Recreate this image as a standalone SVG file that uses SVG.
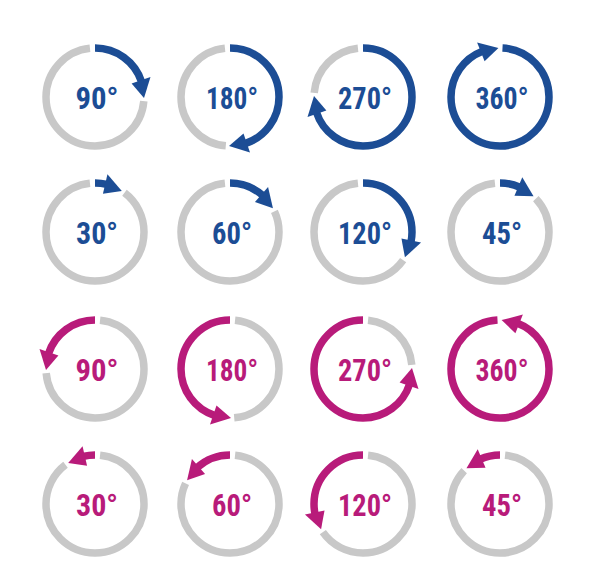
<svg xmlns="http://www.w3.org/2000/svg" xmlns:xlink="http://www.w3.org/1999/xlink" width="589" height="574" viewBox="0 0 589 574">
<style>
.g{fill:none;stroke:#c8c8c8;stroke-width:7.5}
.b{fill:none;stroke:#1c4d95;stroke-width:7.5}
.m{fill:none;stroke:#b81b7a;stroke-width:7.5}
.hb{fill:#1c4d95}
.hm{fill:#b81b7a}
.t{font-family:"Liberation Sans Narrow","Roboto Condensed","Liberation Sans",Arial,sans-serif;font-weight:bold;font-size:32px;text-anchor:middle}
.tb{fill:#1c4d95}
.tm{fill:#b81b7a}
</style>
<defs>
<polygon id="acw" points="1,-49 -20,-55.5 -13.5,-36.6"/>
<polygon id="accw" points="-1,-49 20,-55.5 13.5,-36.6"/>
</defs>
<rect width="589" height="574" fill="#ffffff"/>
<g id="connectors"/>

<!-- Row 1 blue -->
<g id="b90" transform="translate(95,97)">
<circle class="g" r="49" pathLength="360" transform="rotate(-90)" stroke-dasharray="259 400" stroke-dashoffset="-95"/>
<circle class="b" r="49" pathLength="360" transform="rotate(-90)" stroke-dasharray="72 400" stroke-dashoffset="0"/>
<use href="#acw" class="hb" transform="rotate(90)"/>
<text class="t tb" x="2" y="11.5" textLength="43" lengthAdjust="spacingAndGlyphs">90°</text>
</g>
<g id="b180" transform="translate(230,97)">
<circle class="g" r="49" pathLength="360" transform="rotate(-90)" stroke-dasharray="169 400" stroke-dashoffset="-185"/>
<circle class="b" r="49" pathLength="360" transform="rotate(-90)" stroke-dasharray="162 400" stroke-dashoffset="0"/>
<use href="#acw" class="hb" transform="rotate(180)"/>
<text class="t tb" x="2" y="11.5" textLength="52" lengthAdjust="spacingAndGlyphs">180°</text>
</g>
<g id="b270" transform="translate(363,97)">
<circle class="g" r="49" pathLength="360" transform="rotate(-90)" stroke-dasharray="79 400" stroke-dashoffset="-275"/>
<circle class="b" r="49" pathLength="360" transform="rotate(-90)" stroke-dasharray="252 400" stroke-dashoffset="0"/>
<use href="#acw" class="hb" transform="rotate(270)"/>
<text class="t tb" x="2" y="11.5" textLength="54" lengthAdjust="spacingAndGlyphs">270°</text>
</g>
<g id="b360" transform="translate(500,97)">
<circle class="b" r="49" pathLength="360" transform="rotate(-90)" stroke-dasharray="336 400" stroke-dashoffset="-3"/>
<use href="#acw" class="hb" transform="rotate(357)"/>
<text class="t tb" x="2" y="11.5" textLength="53" lengthAdjust="spacingAndGlyphs">360°</text>
</g>

<!-- Row 2 blue -->
<g id="b30" transform="translate(95,232)">
<circle class="g" r="49" pathLength="360" transform="rotate(-90)" stroke-dasharray="317 400" stroke-dashoffset="-37"/>
<circle class="b" r="49" pathLength="360" transform="rotate(-90)" stroke-dasharray="14 400" stroke-dashoffset="0"/>
<use href="#acw" class="hb" transform="rotate(32)"/>
<text class="t tb" x="2" y="11.5" textLength="42" lengthAdjust="spacingAndGlyphs">30°</text>
</g>
<g id="b60" transform="translate(230,232)">
<circle class="g" r="49" pathLength="360" transform="rotate(-90)" stroke-dasharray="289 400" stroke-dashoffset="-65"/>
<circle class="b" r="49" pathLength="360" transform="rotate(-90)" stroke-dasharray="42 400" stroke-dashoffset="0"/>
<use href="#acw" class="hb" transform="rotate(60)"/>
<text class="t tb" x="2" y="11.5" textLength="40" lengthAdjust="spacingAndGlyphs">60°</text>
</g>
<g id="b120" transform="translate(363,232)">
<circle class="g" r="49" pathLength="360" transform="rotate(-90)" stroke-dasharray="229 400" stroke-dashoffset="-125"/>
<circle class="b" r="49" pathLength="360" transform="rotate(-90)" stroke-dasharray="102 400" stroke-dashoffset="0"/>
<use href="#acw" class="hb" transform="rotate(120)"/>
<text class="t tb" x="2" y="11.5" textLength="54" lengthAdjust="spacingAndGlyphs">120°</text>
</g>
<g id="b45" transform="translate(500,232)">
<circle class="g" r="49" pathLength="360" transform="rotate(-90)" stroke-dasharray="307 400" stroke-dashoffset="-47"/>
<circle class="b" r="49" pathLength="360" transform="rotate(-90)" stroke-dasharray="24 400" stroke-dashoffset="0"/>
<use href="#acw" class="hb" transform="rotate(42)"/>
<text class="t tb" x="2" y="11.5" textLength="40" lengthAdjust="spacingAndGlyphs">45°</text>
</g>

<!-- Row 3 magenta -->
<g id="m90" transform="translate(95,369)">
<circle class="g" r="49" pathLength="360" transform="rotate(-90)" stroke-dasharray="259 400" stroke-dashoffset="-6"/>
<circle class="m" r="49" pathLength="360" transform="rotate(-90)" stroke-dasharray="72 400" stroke-dashoffset="-288"/>
<use href="#accw" class="hm" transform="rotate(270)"/>
<text class="t tm" x="2" y="11.5" textLength="43" lengthAdjust="spacingAndGlyphs">90°</text>
</g>
<g id="m180" transform="translate(230,369)">
<circle class="g" r="49" pathLength="360" transform="rotate(-90)" stroke-dasharray="169 400" stroke-dashoffset="-6"/>
<circle class="m" r="49" pathLength="360" transform="rotate(-90)" stroke-dasharray="162 400" stroke-dashoffset="-198"/>
<use href="#accw" class="hm" transform="rotate(180)"/>
<text class="t tm" x="2" y="11.5" textLength="52" lengthAdjust="spacingAndGlyphs">180°</text>
</g>
<g id="m270" transform="translate(363,369)">
<circle class="g" r="49" pathLength="360" transform="rotate(-90)" stroke-dasharray="79 400" stroke-dashoffset="-6"/>
<circle class="m" r="49" pathLength="360" transform="rotate(-90)" stroke-dasharray="252 400" stroke-dashoffset="-108"/>
<use href="#accw" class="hm" transform="rotate(90)"/>
<text class="t tm" x="2" y="11.5" textLength="54" lengthAdjust="spacingAndGlyphs">270°</text>
</g>
<g id="m360" transform="translate(500,369)">
<circle class="m" r="49" pathLength="360" transform="rotate(-90)" stroke-dasharray="336 400" stroke-dashoffset="-21"/>
<use href="#accw" class="hm" transform="rotate(3)"/>
<text class="t tm" x="2" y="11.5" textLength="53" lengthAdjust="spacingAndGlyphs">360°</text>
</g>

<!-- Row 4 magenta -->
<g id="m30" transform="translate(95,504)">
<circle class="g" r="49" pathLength="360" transform="rotate(-90)" stroke-dasharray="317 400" stroke-dashoffset="-6"/>
<circle class="m" r="49" pathLength="360" transform="rotate(-90)" stroke-dasharray="14 400" stroke-dashoffset="-346"/>
<use href="#accw" class="hm" transform="rotate(328)"/>
<text class="t tm" x="2" y="11.5" textLength="42" lengthAdjust="spacingAndGlyphs">30°</text>
</g>
<g id="m60" transform="translate(230,504)">
<circle class="g" r="49" pathLength="360" transform="rotate(-90)" stroke-dasharray="289 400" stroke-dashoffset="-6"/>
<circle class="m" r="49" pathLength="360" transform="rotate(-90)" stroke-dasharray="42 400" stroke-dashoffset="-318"/>
<use href="#accw" class="hm" transform="rotate(300)"/>
<text class="t tm" x="2" y="11.5" textLength="40" lengthAdjust="spacingAndGlyphs">60°</text>
</g>
<g id="m120" transform="translate(363,504)">
<circle class="g" r="49" pathLength="360" transform="rotate(-90)" stroke-dasharray="229 400" stroke-dashoffset="-6"/>
<circle class="m" r="49" pathLength="360" transform="rotate(-90)" stroke-dasharray="102 400" stroke-dashoffset="-258"/>
<use href="#accw" class="hm" transform="rotate(240)"/>
<text class="t tm" x="2" y="11.5" textLength="54" lengthAdjust="spacingAndGlyphs">120°</text>
</g>
<g id="m45" transform="translate(500,504)">
<circle class="g" r="49" pathLength="360" transform="rotate(-90)" stroke-dasharray="307 400" stroke-dashoffset="-6"/>
<circle class="m" r="49" pathLength="360" transform="rotate(-90)" stroke-dasharray="24 400" stroke-dashoffset="-336"/>
<use href="#accw" class="hm" transform="rotate(318)"/>
<text class="t tm" x="2" y="11.5" textLength="40" lengthAdjust="spacingAndGlyphs">45°</text>
</g>
</svg>
